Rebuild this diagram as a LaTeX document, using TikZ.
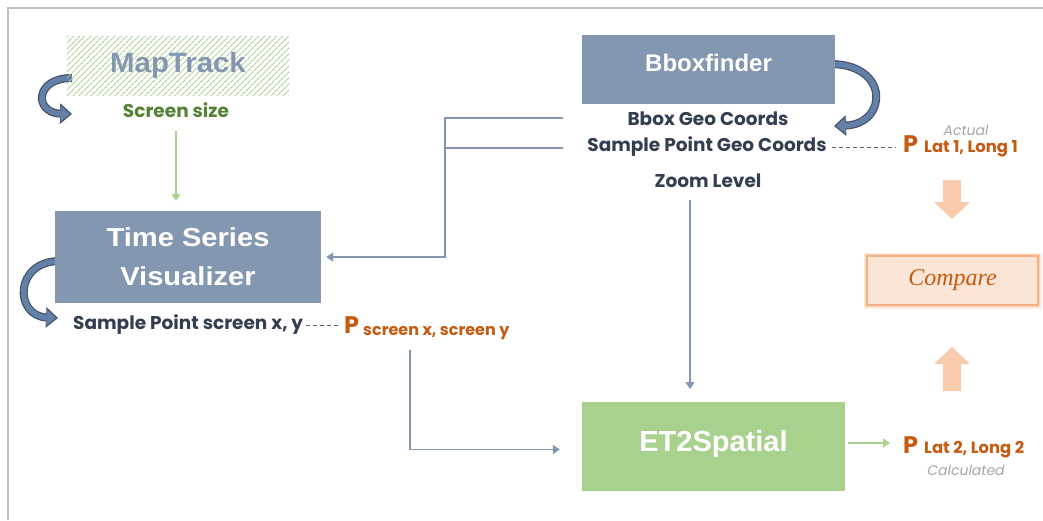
\documentclass[tikz,border=0pt]{standalone}
\usepackage{fontspec}
\setmainfont{Liberation Sans}
\newfontfamily\gothic{Poppins}
\newfontfamily\serifit{Liberation Serif}
\usetikzlibrary{arrows.meta,patterns.meta}
\definecolor{slate}{HTML}{8497B0}
\definecolor{slatedark}{HTML}{44546A}
\definecolor{curvefill}{HTML}{6580A8}
\definecolor{darktxt}{HTML}{333F50}
\definecolor{greenbox}{HTML}{A9D18E}
\definecolor{greentxt}{HTML}{548235}
\definecolor{orangetxt}{HTML}{C55A11}
\definecolor{orangelight}{HTML}{F8CBAD}
\definecolor{cmpfill}{HTML}{FBE5D6}
\definecolor{cmpborder}{HTML}{F4B183}
\definecolor{graytxt}{HTML}{A6A6A6}
\definecolor{frame}{HTML}{BFBFBF}
\begin{document}
\begin{tikzpicture}[x=1pt,y=-1pt,
  titlebox/.style={fill=slate, text=white, inner sep=0pt, align=center,
    font=\bfseries\fontsize{24}{30}\selectfont},
  lbl/.style={text=darktxt, inner sep=0pt, font=\gothic\bfseries\fontsize{18.5}{20}\selectfont},
  conn/.style={draw=slate, line width=1.6pt, -{Triangle[length=7pt,width=9pt]}},
  plain/.style={draw=slate, line width=1.6pt},
  gconn/.style={draw=greenbox, line width=1.6pt, -{Triangle[length=7pt,width=9pt]}},
  dashconn/.style={draw=darktxt!80, line width=0.9pt, dash pattern=on 4pt off 3pt},
  curvout/.style={draw=slatedark, line width=8pt, -{Triangle[length=12pt,width=20pt]}},
  curvin/.style={draw=curvefill, line width=5.5pt, -{Triangle[length=9.5pt,width=15.5pt]}},
  ptxt/.style={text=orangetxt, inner sep=0pt, anchor=base west},
  note/.style={text=graytxt, inner sep=0pt, font=\gothic\itshape\fontsize{14}{16}\selectfont},
  blockarrow/.style={fill=orangelight, draw=none}
]
\useasboundingbox (0,0) rectangle (1043,520);
% frame
\draw[frame, line width=1.5pt] (8,520) -- (8,8) -- (1043,8);

% curved self-arrows (drawn first, tails hidden under boxes)
\draw[curvout] (72,78) .. controls (34,78) and (34,113) .. (72,114);
\draw[curvin]  (72,78) .. controls (34,78) and (34,113) .. (70,114);
\draw[curvout] (60,261) .. controls (14,261) and (14,316) .. (58,318);
\draw[curvin]  (60,261) .. controls (14,261) and (14,316) .. (56,318);
\draw[curvout] (830,64) .. controls (890,64) and (888,124) .. (834,126);
\draw[curvin]  (830,64) .. controls (890,64) and (888,124) .. (836,126);

% MapTrack hatched box
\node[minimum width=222pt, minimum height=59pt, inner sep=0pt,
  pattern={Lines[angle=45,distance=4pt,line width=1.2pt]}, pattern color=greenbox,
  text=slate, font=\bfseries\fontsize{28}{30}\selectfont] (map) at (178,65.5) {\raisebox{2pt}{\scalebox{1.05}[1]{MapTrack}}};
\node[lbl, text=greentxt] (ss) at (176,110) {Screen size};

% Time Series Visualizer
\node[titlebox, minimum width=266pt, minimum height=92pt,
  font=\bfseries\fontsize{26}{39}\selectfont] (tsv) at (188,257) {\scalebox{1.12}[1]{Time Series}\\\scalebox{1.12}[1]{Visualizer}};
\node[lbl, anchor=west] (sps) at (73,325) {Sample Point screen x, y};

% Bboxfinder
\node[titlebox, minimum width=253pt, minimum height=69pt] (bbox) at (708.5,69.5) {\raisebox{13pt}{Bboxfinder}};
\node[lbl] (bgc) at (708,119) {Bbox Geo Coords};
\node[lbl] (spgc) at (707,147) {Sample Point Geo Coords};
\node[lbl] (zl) at (708,181) {Zoom Level};

% ET2Spatial
\node[fill=greenbox, text=white, minimum width=263pt, minimum height=89pt, inner sep=0pt,
  font=\bfseries\fontsize{29}{32}\selectfont] (et2) at (713.5,446.5) {\raisebox{11pt}{ET2Spatial}};

% P labels
\node[ptxt] (p1) at (903,152) {{\gothic\bfseries\fontsize{24}{24}\selectfont P}\hspace{6pt}{\gothic\bfseries\fontsize{16.4}{17}\selectfont Lat 1, Long 1}};
\node[note] (act) at (966,130) {Actual};
\node[ptxt] (p2) at (903,453) {{\gothic\bfseries\fontsize{24}{24}\selectfont P}\hspace{6pt}{\gothic\bfseries\fontsize{16.4}{17}\selectfont Lat 2, Long 2}};
\node[note] (calc) at (966,470) {Calculated};
\node[ptxt] (p3) at (344,333) {{\gothic\bfseries\fontsize{24}{24}\selectfont P}\hspace{4pt}\raisebox{-2pt}{\gothic\bfseries\fontsize{16}{17}\selectfont screen x, screen y}};

% Compare box with glow
\draw[cmpborder, opacity=0.25, line width=7pt] (867,256) rectangle (1038,305);
\draw[cmpborder, opacity=0.4, line width=4pt] (867,256) rectangle (1038,305);
\node[fill=cmpfill, draw=cmpborder, line width=1.5pt, minimum width=171pt, minimum height=49pt,
  inner sep=0pt, text=orangetxt, font=\serifit\itshape\fontsize{24}{26}\selectfont] (cmp) at (952.5,280.5) {Compare};

% orange block arrows
\fill[blockarrow] (943,180) -- (961,180) -- (961,202) -- (970,202) -- (952,219) -- (934,202) -- (943,202) -- cycle;
\fill[blockarrow] (943,391) -- (961,391) -- (961,364) -- (970,364) -- (952,347) -- (934,364) -- (943,364) -- cycle;

% connectors
\coordinate (j1) at (563,118);
\coordinate (j2) at (563,148);
\draw[conn] (j1) -- (445,118) |- ([xshift=5pt]tsv.east);
\draw[plain] (j2) -- (445,148);

\coordinate (zs) at (690,200);
\draw[conn] (zs) -- (690,389);

\coordinate (ss0) at (410,350);
\draw[conn] (ss0) |- ([xshift=-22pt,yshift=-3pt]et2.west);

\coordinate (ssb) at (176,131);
\draw[gconn] (ssb) -- (176,201);

\coordinate (g2) at (890,443);
\draw[gconn] ([xshift=3pt]et2.east |- g2) -- (g2);

\draw[dashconn] ([xshift=5pt]spgc.east) -- ([xshift=-8pt]p1.west |- spgc.east);
\draw[dashconn] ([xshift=3pt]sps.east) -- ([xshift=-6pt]p3.west |- sps.east);
\end{tikzpicture}
\end{document}
